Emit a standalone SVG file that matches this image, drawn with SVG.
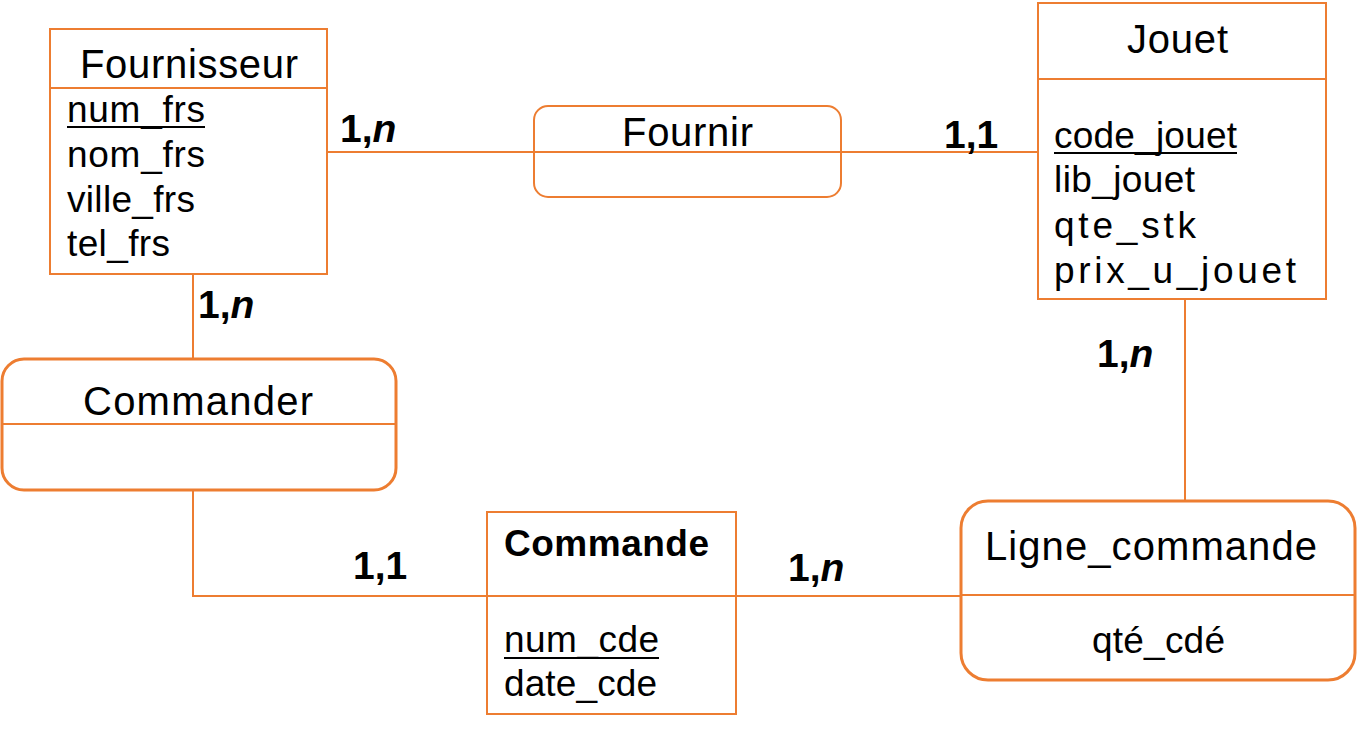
<svg xmlns="http://www.w3.org/2000/svg" width="1359" height="729" viewBox="0 0 1359 729">
<style>
.box{fill:none;stroke:#ED7D31;stroke-width:2}
.thick{stroke-width:3}
.sep{stroke:#ED7D31;stroke-width:2}
.con{fill:none;stroke:#ED7D31;stroke-width:2}
.t{font-family:"Liberation Sans",Arial,sans-serif;font-size:40px;fill:#000}
.a{font-family:"Liberation Sans",Arial,sans-serif;font-size:37px;fill:#000}
.b{font-family:"Liberation Sans",Arial,sans-serif;font-size:37px;font-weight:bold;fill:#000}
.c{font-family:"Liberation Sans",Arial,sans-serif;font-size:39px;font-weight:bold;fill:#000}
.ul{stroke:#000;stroke-width:2}
</style>
<rect width="1359" height="729" fill="#fff"/>
<g id="Fournisseur">
<rect class="box" x="50" y="29" width="277" height="245"/>
<line class="sep" x1="50" y1="88" x2="327" y2="88"/>
<text class="t" x="80" y="78" textLength="218" lengthAdjust="spacing">Fournisseur</text>
<text class="a" x="67" y="122" textLength="138" lengthAdjust="spacing">num_frs</text>
<line class="ul" x1="67" y1="127" x2="205" y2="127"/>
<text class="a" x="67" y="167" textLength="138" lengthAdjust="spacing">nom_frs</text>
<text class="a" x="67" y="212" textLength="128" lengthAdjust="spacing">ville_frs</text>
<text class="a" x="67" y="256" textLength="103" lengthAdjust="spacing">tel_frs</text>
</g>
<g id="Jouet">
<rect class="box" x="1038" y="3" width="288" height="296"/>
<line class="sep" x1="1038" y1="79" x2="1326" y2="79"/>
<text class="t" x="1127" y="53" textLength="101" lengthAdjust="spacing">Jouet</text>
<text class="a" x="1054" y="148" textLength="183" lengthAdjust="spacing">code_jouet</text>
<line class="ul" x1="1054" y1="153" x2="1237" y2="153"/>
<text class="a" x="1054" y="192" textLength="141" lengthAdjust="spacing">lib_jouet</text>
<text class="a" x="1054" y="238" textLength="142" lengthAdjust="spacing">qte_stk</text>
<text class="a" x="1054" y="283" textLength="242" lengthAdjust="spacing">prix_u_jouet</text>
</g>
<g id="Fournir">
<rect class="box" x="534" y="106" width="307" height="91" rx="14"/>
<text class="t" x="622" y="146" textLength="131" lengthAdjust="spacing">Fournir</text>
</g>
<g id="Commander">
<rect class="box thick" x="2" y="359" width="394" height="131" rx="22"/>
<line class="sep" x1="2" y1="424" x2="396" y2="424"/>
<text class="t" x="83" y="415" textLength="230" lengthAdjust="spacing">Commander</text>
</g>
<g id="Commande">
<rect class="box" x="487" y="512" width="249" height="202"/>
<line class="sep" x1="487" y1="596" x2="736" y2="596"/>
<text class="b" x="504" y="556" textLength="205" lengthAdjust="spacing">Commande</text>
<text class="a" x="504" y="652" textLength="155" lengthAdjust="spacing">num_cde</text>
<line class="ul" x1="504" y1="658" x2="659" y2="658"/>
<text class="a" x="504" y="696" textLength="153" lengthAdjust="spacing">date_cde</text>
</g>
<g id="Ligne_commande">
<rect class="box thick" x="961" y="501" width="394" height="179" rx="27"/>
<line class="sep" x1="961" y1="595" x2="1355" y2="595"/>
<text class="t" x="985" y="560" textLength="332" lengthAdjust="spacing">Ligne_commande</text>
<text class="a" x="1092" y="653" textLength="133" lengthAdjust="spacing">qté_cdé</text>
</g>
<g id="connectors">
<line class="con" x1="327" y1="152" x2="1038" y2="152"/>
<line class="con" x1="193" y1="274" x2="193" y2="359"/>
<polyline class="con" points="193,490 193,596 961,596"/>
<line class="con" x1="1185" y1="299" x2="1185" y2="501"/>
</g>
<g id="labels">
<text class="c" x="340" y="142">1,<tspan font-style="italic">n</tspan></text>
<text class="c" x="944" y="148">1,1</text>
<text class="c" x="198" y="318">1,<tspan font-style="italic">n</tspan></text>
<text class="c" x="1097" y="367">1,<tspan font-style="italic">n</tspan></text>
<text class="c" x="353" y="579">1,1</text>
<text class="c" x="788" y="581">1,<tspan font-style="italic">n</tspan></text>
</g>
</svg>
